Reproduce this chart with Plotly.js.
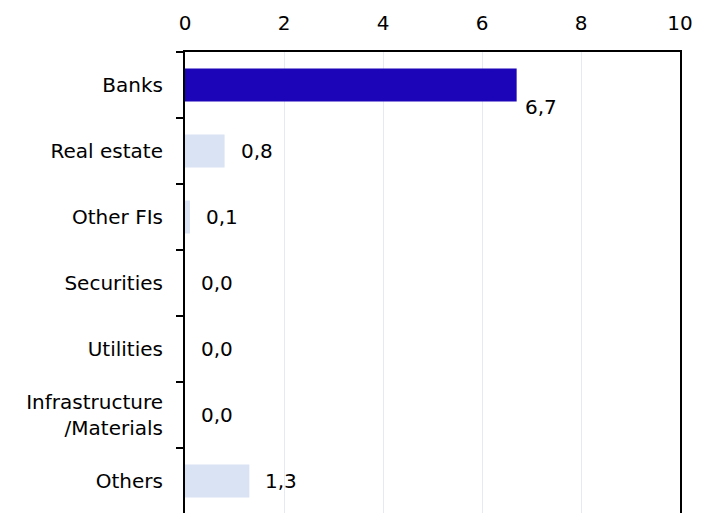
<!DOCTYPE html>
<html><head><meta charset="utf-8">
<script src="https://cdn.plot.ly/plotly-3.0.1.min.js"></script>
<style>html,body{margin:0;padding:0;overflow:hidden;background:#fff;}</style>
</head><body>
<div id="chart" style="width:710px;height:520px;"></div>
<script>
const categories = ["Banks", "Real estate", "Other FIs", "Securities", "Utilities", "Infrastructure<br>/Materials", "Others"];
const values = [6.7, 0.8, 0.1, 0.0, 0.0, 0.0, 1.3];
const barColors = ["#1c05b8", "#dae3f3", "#dae3f3", "#dae3f3", "#dae3f3", "#dae3f3", "#dae3f3"];
const tickVals = [0, 2, 4, 6, 8, 10];
const tickText = ["0", "2", "4", "6", "8", "10"];

const fmt = v => v.toFixed(1).replace('.', ',');
const font = "DejaVu Sans, Verdana, sans-serif";
const fs = 20;

const annotations = categories.map((c, i) => ({
  x: values[i], y: c, xref: 'x', yref: 'y',
  text: fmt(values[i]), showarrow: false,
  xanchor: 'left', yanchor: 'middle',
  xshift: i === 0 ? 6 : 14, yshift: i === 0 ? -22 : 0,
  font: {family: font, size: fs, color: '#000'}
}));

Plotly.newPlot('chart', [{
  type: 'bar', orientation: 'h',
  x: values, y: categories,
  marker: {color: barColors},
  hoverinfo: 'none'
}], {
  width: 710, height: 520,
  margin: {l: 185, r: 30, t: 52, b: 6},
  paper_bgcolor: '#fff', plot_bgcolor: '#fff',
  bargap: 0.5,
  showlegend: false,
  font: {family: font, size: fs, color: '#000'},
  xaxis: {
    side: 'top', range: [0, 10], automargin: false,
    tickvals: tickVals, ticktext: tickText,
    showgrid: true, gridcolor: '#e4eaf4', gridwidth: 1,
    showline: true, linecolor: '#000', linewidth: 2,
    ticks: '', zeroline: false, ticklabelstandoff: 12,
    fixedrange: true
  },
  yaxis: {
    type: 'category', automargin: false,
    range: [categories.length - 0.5, -0.5],
    showline: true, linecolor: '#000', linewidth: 2, mirror: true,
    ticks: 'outside', ticklen: 7, tickwidth: 2, tickcolor: '#000',
    tickson: 'boundaries', showgrid: false, zeroline: false,
    ticklabelstandoff: 16, fixedrange: true
  },
  annotations: annotations
}, {staticPlot: true});
</script>
</body></html>
